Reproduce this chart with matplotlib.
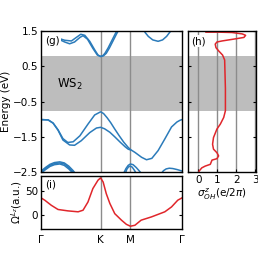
import numpy as np
import matplotlib
matplotlib.use('Agg')
import matplotlib.pyplot as plt

# k-path nodes (G-K-M-G)
k_nodes = [0.0, 4/3, 2.0, 2 + 2/np.sqrt(3)]
k_labels = ['Γ', 'K', 'M', 'Γ']
gap = [-0.78, 0.79]

# conduction bands
c1_k = [0.38, 0.53, 0.68, 0.79, 0.89, 0.98, 1.09, 1.20, 1.275, 1.333, 1.38, 1.43, 1.50, 1.58, 1.66, 1.72]
c1_e = [1.30, 1.24, 1.22, 1.32, 1.41, 1.38, 1.21, 0.97, 0.82, 0.78, 0.80, 0.87, 1.02, 1.22, 1.42, 1.56]
c2_k = [0.38, 0.53, 0.64, 0.75, 0.87, 0.94, 1.04, 1.16, 1.26, 1.333, 1.40, 1.46, 1.53, 1.61, 1.69, 1.75]
c2_e = [1.28, 1.19, 1.14, 1.19, 1.32, 1.37, 1.27, 1.01, 0.82, 0.78, 0.80, 0.87, 1.02, 1.22, 1.42, 1.56]
c3_k = [2.29, 2.33, 2.40, 2.50, 2.62, 2.72, 2.81, 2.87, 2.94]
c3_e = [1.56, 1.46, 1.35, 1.25, 1.21, 1.25, 1.35, 1.45, 1.56]

# valence bands
v1_k = [0.0, 0.16, 0.27, 0.38, 0.49, 0.60, 0.72, 0.87, 1.05, 1.20, 1.333, 1.40, 1.48, 1.56, 1.65, 1.75, 1.85, 1.95, 2.0,
        2.10, 2.25, 2.36, 2.48, 2.62, 2.77, 2.92, 3.04, 3.11, 3.155]
v1_e = [-1.01, -1.02, -1.11, -1.30, -1.55, -1.66, -1.64, -1.47, -1.14, -0.88, -0.79, -0.84, -0.96, -1.10, -1.28, -1.47, -1.65, -1.80, -1.86,
        -1.94, -2.08, -2.15, -2.11, -1.89, -1.56, -1.22, -1.08, -1.03, -1.01]
v2_k = [0.0, 0.16, 0.27, 0.38, 0.49, 0.64, 0.75, 0.90, 1.09, 1.24, 1.333, 1.42, 1.54, 1.65, 1.77, 1.88, 1.95, 2.0]
v2_e = [-1.01, -1.02, -1.11, -1.31, -1.59, -1.73, -1.74, -1.61, -1.38, -1.25, -1.23, -1.27, -1.37, -1.50, -1.65, -1.78, -1.85, -1.87]
low_k = [0.0, 0.1, 0.2, 0.3, 0.42, 0.52, 0.62, 0.72, 0.78]
low1_e = [-2.47, -2.37, -2.28, -2.23, -2.21, -2.24, -2.33, -2.46, -2.56]
low2_e = [-2.50, -2.40, -2.31, -2.26, -2.24, -2.27, -2.37, -2.50, -2.60]
low3_e = [-2.53, -2.43, -2.34, -2.29, -2.27, -2.31, -2.41, -2.54, -2.64]
m1_k = [1.84, 1.90, 1.95, 2.0, 2.06, 2.13, 2.20, 2.26]
m1_e = [-2.56, -2.40, -2.31, -2.27, -2.29, -2.37, -2.47, -2.56]
m2_k = [1.88, 1.92, 1.96, 2.0, 2.04, 2.09, 2.14]
m2_e = [-2.56, -2.42, -2.35, -2.33, -2.36, -2.45, -2.56]
r1_k = [2.68, 2.74, 2.80, 2.87, 2.95, 3.05, 3.155]
r1_e = [-2.56, -2.46, -2.41, -2.39, -2.40, -2.43, -2.47]

# berry curvature (i)
om_k = [0.0, 0.083, 0.23, 0.38, 0.60, 0.83, 0.94, 1.05, 1.16, 1.275, 1.333, 1.39, 1.46, 1.54, 1.65, 1.80, 1.91, 2.0,
        2.10, 2.24, 2.47, 2.77, 2.92, 3.06, 3.155]
om_v = [36, 31, 20, 11, 8, 6, 9.4, 27, 56, 74, 79, 70, 45, 24, 2, -12, -21, -25,
        -23, -12, -5, 6, 16.5, 31, 36]

# orbital hall conductivity (h)
sig_e = [1.47, 1.47, 1.46, 1.42, 1.38, 1.32, 1.28, 1.22, 1.19, 1.13, 1.03, 0.94, 0.82, 0.68, -0.13, -0.76,
         -0.95, -1.14, -1.28, -1.52, -1.71, -1.85, -1.95, -2.04, -2.12, -2.16, -2.28, -2.33, -2.38, -2.47, -2.53]
sig_x = [0.40, 1.07, 1.78, 2.32, 2.50, 2.41, 1.96, 1.25, 0.98, 0.89, 0.93, 1.07, 1.28, 1.39, 1.43, 1.43,
         1.34, 1.16, 0.98, 0.80, 0.75, 0.80, 0.98, 1.07, 0.98, 0.72, 0.63, 0.36, 0.18, 0.04, 0.0]

blue = '#2b7bba'
red = '#e0262b'
grey = '#8c8c8c'
fs = 7.5
plt.rcParams['font.family'] = 'DejaVu Sans'

fig = plt.figure(figsize=(2.58, 2.58), dpi=100)
ax_g = fig.add_axes([0.159, 0.333, 0.5465, 0.5465])
ax_i = fig.add_axes([0.159, 0.1124, 0.5465, 0.2054])
ax_h = fig.add_axes([0.7287, 0.333, 0.2636, 0.5465])

# (g) bands
ax_g.axhspan(gap[0], gap[1], color='#bdbdbd', lw=0, zorder=0)
for kk in k_nodes[1:3]:
    ax_g.axvline(kk, color=grey, lw=1, zorder=1)
for kk, ee in [(c1_k, c1_e), (c2_k, c2_e), (c3_k, c3_e), (v1_k, v1_e), (v2_k, v2_e),
               (low_k, low1_e), (low_k, low2_e), (low_k, low3_e),
               (m1_k, m1_e), (m2_k, m2_e), (r1_k, r1_e)]:
    ax_g.plot(kk, ee, color=blue, lw=1.1, zorder=2)
ax_g.set_xlim(k_nodes[0], k_nodes[-1])
ax_g.set_ylim(-2.5, 1.5)
ax_g.set_yticks([1.5, 0.5, -0.5, -1.5, -2.5])
ax_g.set_xticks([])
ax_g.set_ylabel('Energy (eV)', fontsize=fs, labelpad=1)
ax_g.text(0.36, 0.0, 'WS$_2$', fontsize=8.5, va='center')
ax_g.text(0.03, 0.965, '(g)', transform=ax_g.transAxes, fontsize=fs, va='top', zorder=5,
          bbox=dict(facecolor='white', edgecolor='none', pad=0.5))
ax_g.tick_params(direction='in', right=True, labelsize=fs, length=2, pad=2)

# (h) sigma
ax_h.axhspan(gap[0], gap[1], color='#bdbdbd', lw=0, zorder=0)
for xx in [0, 1, 2, 3]:
    ax_h.axvline(xx, color=grey, lw=1, zorder=1)
ax_h.plot(sig_x, sig_e, color=red, lw=1.1, zorder=2)
ax_h.set_xlim(-0.55, 3.05)
ax_h.set_ylim(-2.5, 1.5)
ax_h.set_yticks([1.5, 0.5, -0.5, -1.5, -2.5])
ax_h.set_yticklabels([])
ax_h.set_xticks([0, 1, 2, 3])
ax_h.set_xlabel(r'$\sigma^{z}_{OH}$(e/2$\pi$)', fontsize=fs, labelpad=1)
ax_h.text(0.05, 0.965, '(h)', transform=ax_h.transAxes, fontsize=fs, va='top', zorder=5,
          bbox=dict(facecolor='white', edgecolor='none', pad=0.5))
ax_h.tick_params(direction='in', right=True, labelsize=fs, length=2, pad=2)

# (i) berry curvature
for kk in k_nodes[1:3]:
    ax_i.axvline(kk, color=grey, lw=1, zorder=1)
ax_i.plot(om_k, om_v, color=red, lw=1.1, zorder=2)
ax_i.set_xlim(k_nodes[0], k_nodes[-1])
ax_i.set_ylim(-31, 83)
ax_i.set_yticks([0, 50])
ax_i.set_xticks(k_nodes)
ax_i.set_xticklabels(k_labels)
ax_i.set_ylabel(r'$\Omega^{L_z}$(a.u.)', fontsize=fs, labelpad=1)
ax_i.text(0.03, 0.93, '(i)', transform=ax_i.transAxes, fontsize=fs, va='top')
ax_i.tick_params(direction='in', right=True, labelsize=fs, length=2, pad=2)
ax_i.tick_params(axis='x', length=0, pad=4)

for a in [ax_g, ax_h, ax_i]:
    for s in a.spines.values():
        s.set_linewidth(1.0)

fig.savefig('out.png', dpi=100)
